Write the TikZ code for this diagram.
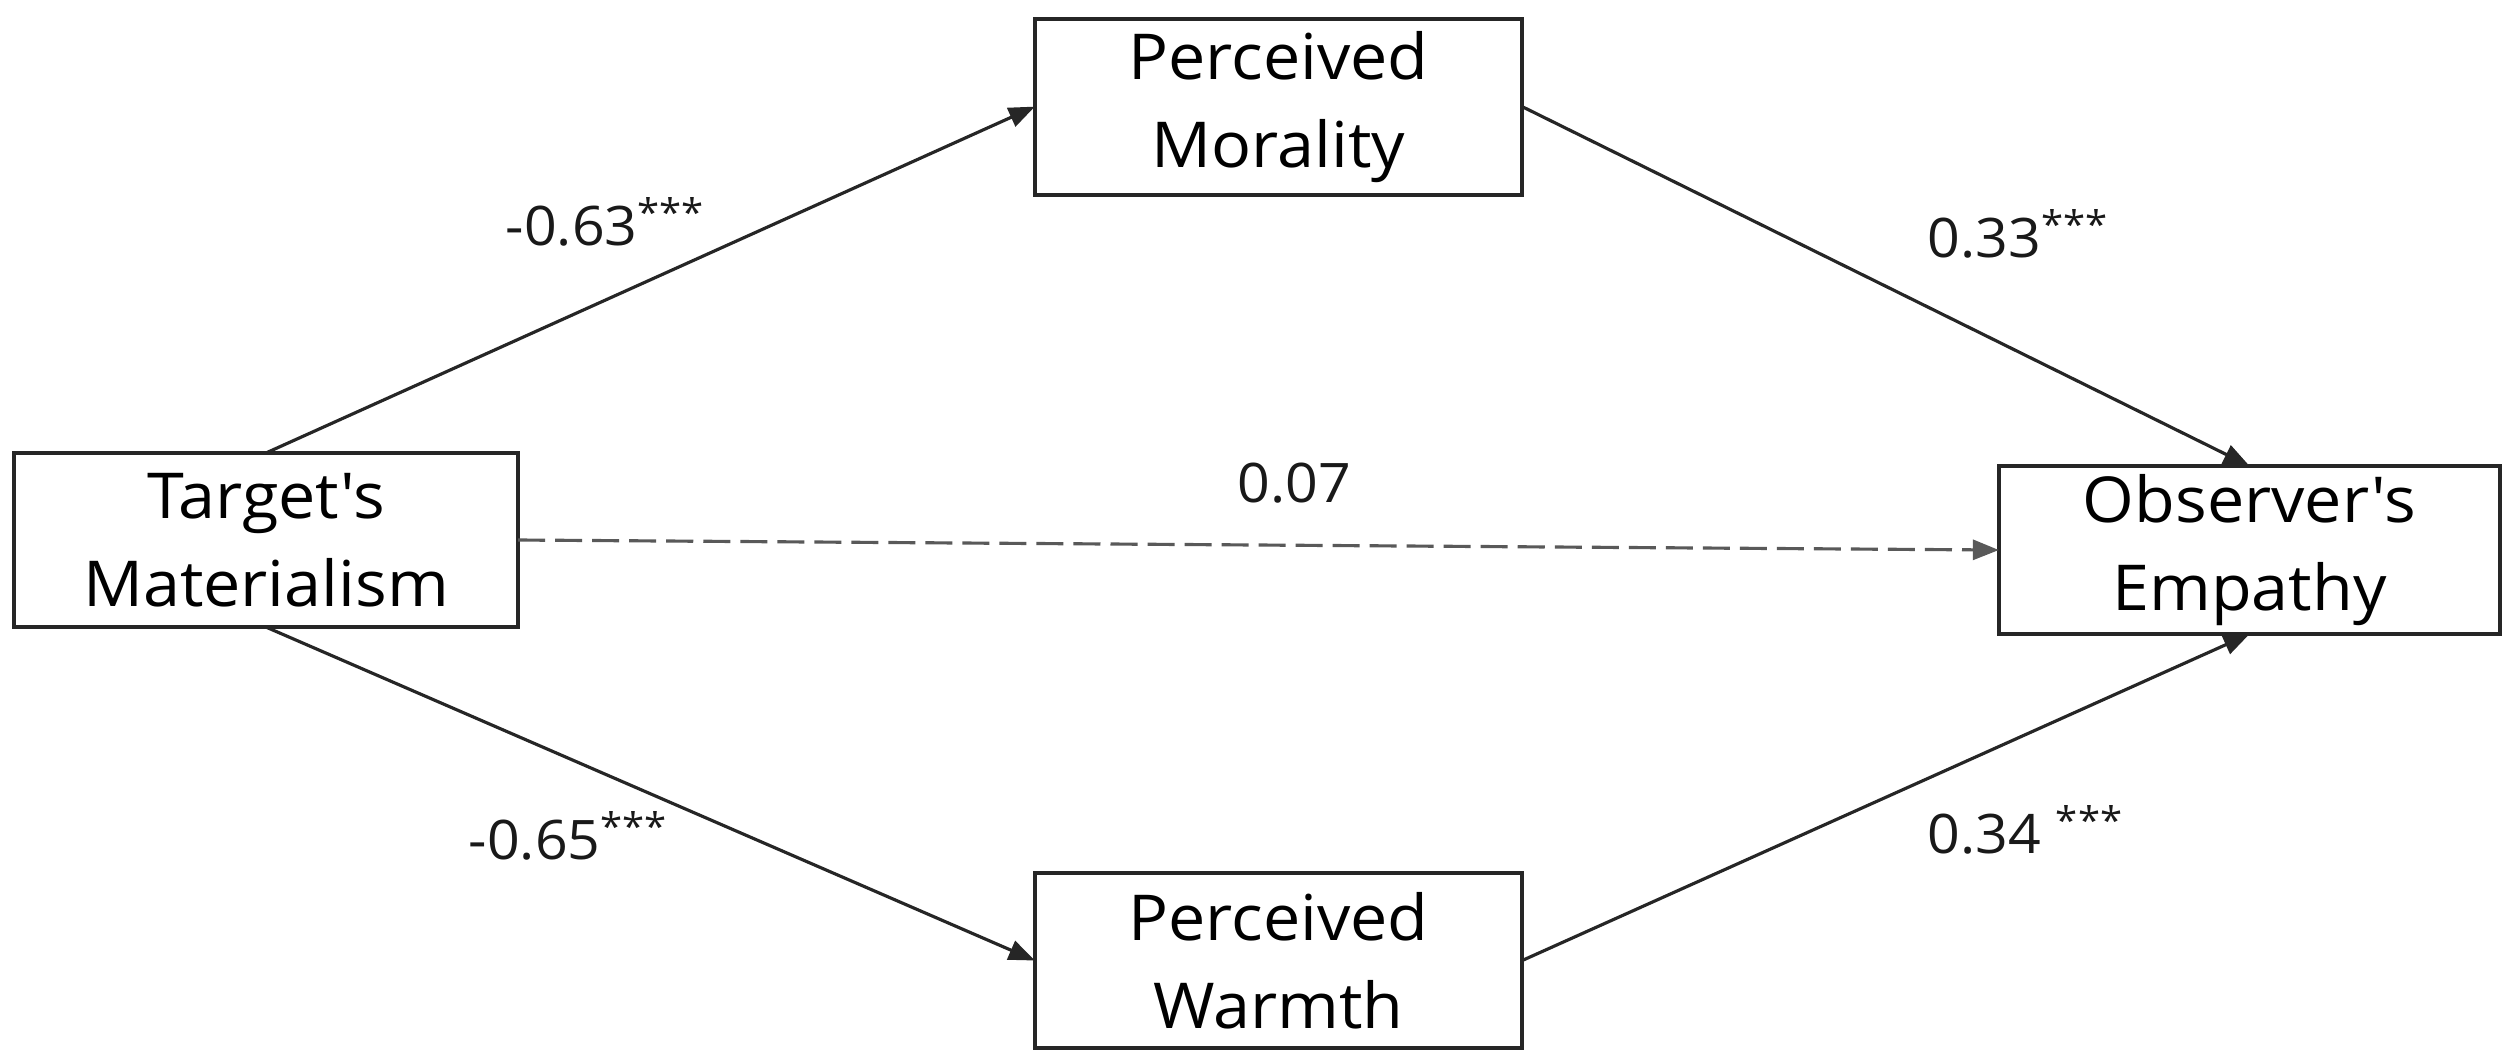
\documentclass[tikz,border=0pt]{standalone}
\usepackage{fontspec}
\setmainfont{Open Sans}[FakeStretch=1.05, Ligatures=TeXOff]
\usetikzlibrary{arrows.meta}
\begin{document}
\begin{tikzpicture}[x=0.01cm,y=-0.01cm,
  box/.style={draw=black!85, line width=1.1pt, fill=white, inner sep=0pt, outer sep=0pt,
    minimum width=4.9cm, minimum height=1.75cm, align=center,
    font=\fontsize{18}{25}\selectfont},
  conn/.style={draw=black!85, line width=0.9pt, -{Triangle[length=0.26cm,width=0.2cm]}},
  dashconn/.style={conn, draw=black!65, dash pattern=on 0.27cm off 0.1cm},
  coef/.style={anchor=base west, inner sep=0pt, font=\fontsize{15.5}{18}\selectfont, text=black!90}]
\useasboundingbox (0,0) rectangle (2517,1050);
\node[box, minimum width=5.04cm, minimum height=1.74cm] (T) at (266,540) {Target's\\Materialism};
\node[box, minimum width=4.87cm, minimum height=1.76cm] (M) at (1278.5,106.6) {Perceived\\Morality};
\node[box, minimum width=4.87cm, minimum height=1.75cm] (W) at (1278.5,960.5) {Perceived\\Warmth};
\node[box, minimum width=5.01cm, minimum height=1.68cm] (E) at (2249.5,550) {Observer's\\Empathy};
\draw[conn] (T.north) -- (M.west);
\draw[conn] (M.east) -- (E.north);
\draw[conn] (T.south) -- (W.west);
\draw[conn] (W.east) -- (E.south);
\draw[dashconn] (T.east) -- (E.west);
\node[coef] (l1) at (505,245) {-0.63\textsuperscript{***}};
\node[coef] (l2) at (1927,257) {0.33\textsuperscript{***}};
\node[coef] (l3) at (468,859) {-0.65\textsuperscript{***}};
\node[coef] (l4) at (1927,853) {0.34 \textsuperscript{***}};
\node[coef] (l5) at (1237,502) {0.07};
\end{tikzpicture}
\end{document}
